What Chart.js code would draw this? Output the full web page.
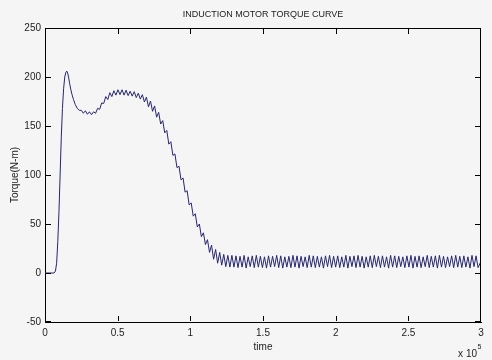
<!DOCTYPE html>
<html>
<head>
<meta charset="utf-8">
<title>Induction motor torque curve</title>
<script src="https://cdn.jsdelivr.net/npm/chart.js@4.4.1/dist/chart.umd.min.js"></script>
<style>
    html, body { margin: 0; padding: 0; background: #f5f5f5; }
</style>
</head>
<body>
<canvas id="torqueChart" width="492" height="360"></canvas>
<script>
// time axis is in units of 1e5 (shown as "x 10^5" under the axis)

// start-up: flat, steep rise, overshoot peak, settle
const transientTime = [0, 0.030, 0.062, 0.072, 0.080, 0.088, 0.096, 0.104, 0.112, 0.120,
    0.128, 0.136, 0.144, 0.150, 0.156, 0.162, 0.170, 0.178, 0.186, 0.196,
    0.208, 0.222, 0.236];
const transientTorque = [0, 0, 0, 2, 10, 32, 62, 100, 138, 168,
    188, 200, 205, 206, 204, 200, 193, 187, 182, 177,
    172, 168, 166];

// dip, second hump and the run-down with torque ripple
const rippleTime = [0.250, 0.264, 0.278, 0.292, 0.306, 0.320, 0.334, 0.348, 0.362, 0.376,
    0.390, 0.404, 0.418, 0.432, 0.446, 0.460, 0.474, 0.488, 0.502, 0.516,
    0.530, 0.544, 0.558, 0.572, 0.586, 0.600, 0.614, 0.628, 0.642, 0.656,
    0.670, 0.684, 0.698, 0.712, 0.726, 0.740, 0.754, 0.768, 0.782, 0.796,
    0.810, 0.824, 0.838, 0.852, 0.866, 0.880, 0.894, 0.908, 0.922, 0.936,
    0.950, 0.964, 0.978, 0.992, 1.006, 1.020, 1.034, 1.048, 1.062, 1.076,
    1.090, 1.104, 1.118, 1.132, 1.146, 1.160, 1.174, 1.188, 1.202, 1.216,
    1.230, 1.244, 1.258, 1.272, 1.286];
const rippleTorque = [166, 163, 165.5, 162, 164.5, 161.5, 164.5, 163, 168, 167,
    173.5, 173, 180, 177, 184, 180, 186, 181.5, 187, 182,
    187, 181.5, 186.5, 181, 185.5, 180.5, 185, 179, 183.5, 177.5,
    182, 174.5, 179.5, 169.5, 175.5, 165, 170.5, 159, 164, 152,
    155.5, 143, 145.5, 131.5, 134, 120, 121.5, 107.5, 109, 95,
    97, 82.5, 84, 69.5, 71.5, 58, 60.5, 47, 50, 37,
    41, 29, 34, 21, 28.5, 14, 24, 10, 21, 8,
    19, 6.5, 18, 6, 18];

// steady state oscillation
const steadyTime = [1.300, 1.314, 1.328, 1.342, 1.356, 1.370, 1.384, 1.398, 1.412, 1.426,
    1.440, 1.454, 1.468, 1.482, 1.496, 1.510, 1.524, 1.538, 1.552, 1.566,
    1.580, 1.594, 1.608, 1.622, 1.636, 1.650, 1.664, 1.678, 1.692, 1.706,
    1.720, 1.734, 1.748, 1.762, 1.776, 1.790, 1.804, 1.818, 1.832, 1.846,
    1.860, 1.874, 1.888, 1.902, 1.916, 1.930, 1.944, 1.958, 1.972, 1.986,
    2.000, 2.014, 2.028, 2.042, 2.056, 2.070, 2.084, 2.098, 2.112, 2.126,
    2.140, 2.154, 2.168, 2.182, 2.196, 2.210, 2.224, 2.238, 2.252, 2.266,
    2.280, 2.294, 2.308, 2.322, 2.336, 2.350, 2.364, 2.378, 2.392, 2.406,
    2.420, 2.434, 2.448, 2.462, 2.476, 2.490, 2.504, 2.518, 2.532, 2.546,
    2.560, 2.574, 2.588, 2.602, 2.616, 2.630, 2.644, 2.658, 2.672, 2.686,
    2.700, 2.714, 2.728, 2.742, 2.756, 2.770, 2.784, 2.798, 2.812, 2.826,
    2.840, 2.854, 2.868, 2.882, 2.896, 2.910, 2.924, 2.938, 2.952, 2.966,
    2.980, 3.000];
const steadyTorque = [6, 17.5, 5.5, 17, 6, 18, 5, 16.5, 6.5, 17.5,
    5.5, 18, 6, 17, 5.5, 16.5, 5, 17.5, 6, 17,
    6.5, 18, 5.5, 17.5, 5, 16.5, 6, 17, 5.5, 18,
    6, 17.5, 5, 17, 6.5, 16.5, 5.5, 18, 6, 17.5,
    5.5, 17, 6, 16.5, 5, 17.5, 6.5, 18, 5.5, 17,
    6, 17.5, 5.5, 16.5, 6, 18, 5, 17, 6.5, 17.5,
    5.5, 18, 6, 17, 5, 16.5, 6, 17.5, 5.5, 18,
    6.5, 17, 5.5, 17.5, 6, 16.5, 5, 18, 6, 17.5,
    5.5, 17, 6.5, 16.5, 5.5, 17.5, 6, 18, 5, 17,
    6, 17.5, 5.5, 16.5, 6.5, 18, 5.5, 17, 6, 17.5,
    5, 18, 6, 17, 5.5, 16.5, 6.5, 17.5, 5.5, 18,
    6, 17, 5.5, 17.5, 6, 16.5, 5, 18, 6.5, 17.5,
    5.5, 12];

const xTicks = { min: 0, max: 3, step: 0.5 };
const yTicks = { min: -50, max: 250, step: 50 };

const FONT = "'Liberation Sans', Arial, sans-serif";
const TEXT_COLOR = '#222';
const AXIS_COLOR = '#000';
const LINE_COLOR = '#26266e';
const TICK_LEN = 5;

const allTime = transientTime.concat(rippleTime, steadyTime);
const allTorque = transientTorque.concat(rippleTorque, steadyTorque);
const points = allTime.map((t, i) => ({ x: t, y: allTorque[i] }));

// top/right edges, inward ticks, title and the x10^5 exponent
const axesBox = {
    id: 'axesBox',
    afterDraw(chart) {
        const ctx = chart.ctx;
        const a = chart.chartArea;
        const xs = chart.scales.x;
        const ys = chart.scales.y;
        const L = Math.round(a.left);
        const R = Math.round(a.right) - 1;
        const T = Math.round(a.top);
        const B = Math.round(a.bottom) - 1;
        ctx.save();
        ctx.fillStyle = AXIS_COLOR;
        ctx.fillRect(L, T, R - L + 1, 1);
        ctx.fillRect(R, T, 1, B - T + 1);
        for (const t of xs.ticks) {
            const px = Math.min(Math.round(xs.getPixelForValue(t.value)), R);
            ctx.fillRect(px, B - TICK_LEN, 1, TICK_LEN);
            ctx.fillRect(px, T + 1, 1, TICK_LEN);
        }
        for (const t of ys.ticks) {
            const py = Math.min(Math.round(ys.getPixelForValue(t.value)), B);
            ctx.fillRect(L + 1, py, TICK_LEN, 1);
            ctx.fillRect(R - TICK_LEN, py, TICK_LEN, 1);
        }

        ctx.fillStyle = TEXT_COLOR;
        ctx.textBaseline = 'middle';
        ctx.textAlign = 'center';
        ctx.font = '9px ' + FONT;
        ctx.fillText('INDUCTION MOTOR TORQUE CURVE', (a.left + a.right) / 2, 15);

        ctx.textBaseline = 'alphabetic';
        ctx.textAlign = 'right';
        ctx.font = '10px ' + FONT;
        ctx.fillText('x 10', a.right - 4, 357);
        ctx.textAlign = 'left';
        ctx.font = '7px ' + FONT;
        ctx.fillText('5', a.right - 3.5, 349);
        ctx.restore();
    },
};

new Chart(document.getElementById('torqueChart'), {
    type: 'line',
    data: {
        datasets: [{
            data: points,
            borderColor: LINE_COLOR,
            borderWidth: 1,
            pointRadius: 0,
        }],
    },
    options: {
        responsive: false,
        animation: false,
        layout: { padding: { top: 28, right: 11 } },
        plugins: { legend: { display: false }, tooltip: { enabled: false } },
        scales: {
            x: {
                type: 'linear', min: xTicks.min, max: xTicks.max,
                afterFit: (s) => { s.height = 38; },
                grid: { display: false, drawTicks: false },
                border: { display: true, color: AXIS_COLOR },
                ticks: {
                    stepSize: xTicks.step, padding: 5, maxRotation: 0,
                    color: TEXT_COLOR, font: { family: FONT, size: 10 },
                    callback: (v) => String(v),
                },
                title: {
                    display: true, text: 'time', color: TEXT_COLOR,
                    font: { family: FONT, size: 10 }, padding: { top: 0, bottom: 7 },
                },
            },
            y: {
                min: yTicks.min, max: yTicks.max,
                afterFit: (s) => { s.width = 45; },
                grid: { display: false, drawTicks: false },
                border: { display: true, color: AXIS_COLOR },
                ticks: {
                    stepSize: yTicks.step, padding: 4,
                    color: TEXT_COLOR, font: { family: FONT, size: 10 },
                },
                title: {
                    display: true, text: 'Torque(N-m)', color: TEXT_COLOR,
                    font: { family: FONT, size: 10 }, padding: { top: 9, bottom: 0 },
                },
            },
        },
    },
    plugins: [axesBox],
});
</script>
</body>
</html>
